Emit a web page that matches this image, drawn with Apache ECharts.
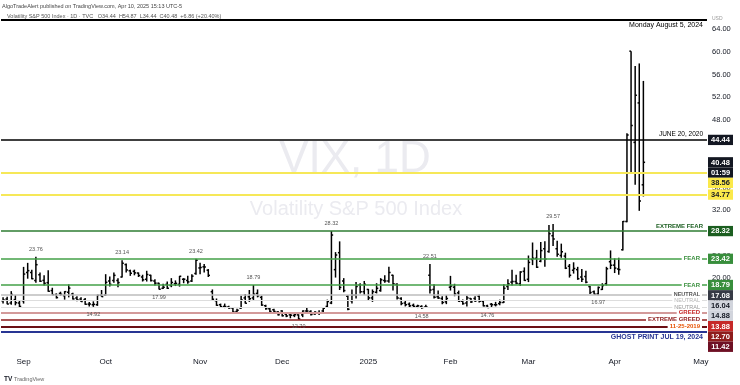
<!DOCTYPE html>
<html><head><meta charset="utf-8">
<script src="https://cdn.jsdelivr.net/npm/echarts@6/dist/echarts.min.js"></script>
<style>html,body{margin:0;padding:0;background:#fff}#c{width:740px;height:385px}</style>
</head><body><div id="c"></div>
<script>
// ---------- DATA ----------
const monthDays = [
 ['2024-08',[26,27,28,29,30]],
 ['2024-09',[3,4,5,6,9,10,11,12,13,16,17,18,19,20,23,24,25,26,27,30]],
 ['2024-10',[1,2,3,4,7,8,9,10,11,14,15,16,17,18,21,22,23,24,25,28,29,30,31]],
 ['2024-11',[1,4,5,6,7,8,11,12,13,14,15,18,19,20,21,22,25,26,27,29]],
 ['2024-12',[2,3,4,5,6,9,10,11,12,13,16,17,18,19,20,23,24,26,27,30,31]],
 ['2025-01',[2,3,6,7,8,10,13,14,15,16,17,21,22,23,24,27,28,29,30,31]],
 ['2025-02',[3,4,5,6,7,10,11,12,13,14,18,19,20,21,24,25,26,27,28]],
 ['2025-03',[3,4,5,6,7,10,11,12,13,14,17,18,19,20,21,24,25,26,27,28,31]],
 ['2025-04',[1,2,3,4,7,8,9,10,11,14,15,16,17,21,22,23,24,25,28,29,30]],
 ['2025-05',[1,2]]
];
const monthNames = {'2024-09':'Sep','2024-10':'Oct','2024-11':'Nov','2024-12':'Dec','2025-01':'2025','2025-02':'Feb','2025-03':'Mar','2025-04':'Apr','2025-05':'May'};

const open = [16.0,16.3,15.6,16.2,15.6,
 16.0,21.0,21.0,19.6,20.6,19.6,19.2,17.8,17.1,17.3,16.9,17.5,17.2,16.5,16.3,16.2,15.4,15.3,15.3,17.0,
 17.0,19.5,19.6,19.6,20.2,22.4,21.3,21.2,20.9,20.2,19.8,20.5,19.5,19.1,18.2,18.9,18.7,19.0,18.9,19.8,19.6,19.5,20.8,
 21.8,22.0,21.4,17.6,16.0,15.3,15.0,14.9,14.7,14.1,14.7,16.5,16.7,16.5,17.3,16.6,15.1,14.6,14.4,14.0,
 14.2,13.6,13.5,13.4,13.5,13.5,14.2,14.1,13.7,13.9,14.2,15.0,15.6,21.5,24.5,19.5,16.8,16.0,17.0,18.8,17.6,
 18.0,16.5,17.5,17.8,19.6,19.5,20.5,18.9,16.4,15.6,15.4,15.2,15.0,15.0,14.9,20.5,18.0,16.7,16.4,15.8,
 18.4,18.4,17.4,15.9,15.6,16.4,16.4,16.8,15.9,15.1,15.4,15.3,15.5,15.7,18.5,19.3,19.4,19.0,21.2,
 19.8,23.3,23.5,23.0,25.2,24.7,27.5,25.2,24.0,23.9,22.1,21.4,21.5,20.2,20.3,18.5,17.6,17.2,18.0,19.0,22.9,
 22.3,21.6,25.0,30.0,60.13,44.0,50.98,36.5];
const high = [16.6,16.7,17.7,17.0,16.0,
 21.99,22.7,21.5,23.76,21.0,20.5,21.4,18.3,17.3,17.6,17.7,18.9,17.4,16.8,16.6,16.5,15.8,15.9,17.1,17.9,
 20.7,20.3,21.0,20.0,23.14,22.6,21.5,21.5,21.0,20.6,21.3,20.6,19.8,19.2,19.0,19.4,20.0,19.6,20.4,20.0,20.4,20.7,23.42,
 22.7,22.5,21.6,18.0,16.4,15.5,15.5,15.1,14.9,14.6,16.9,17.2,17.9,18.79,18.0,16.9,15.3,14.8,14.6,14.2,
 14.3,14.0,13.7,13.7,13.6,14.3,14.9,14.3,14.2,14.3,14.8,16.2,28.32,24.6,26.5,20.0,17.0,18.0,19.3,19.1,19.5,
 18.1,18.0,19.1,20.0,20.5,22.0,20.6,19.1,16.6,16.0,15.7,15.5,15.3,15.2,15.3,22.51,18.9,17.8,16.8,17.0,
 20.4,19.0,17.8,16.2,16.9,16.5,16.8,17.1,16.0,15.3,15.6,15.8,16.2,18.9,19.8,21.5,20.6,21.2,21.9,
 24.0,26.3,25.0,26.4,26.5,29.4,29.57,26.6,26.1,24.5,22.5,22.8,22.0,21.6,21.3,18.6,17.8,18.5,19.1,22.0,24.9,
 23.5,23.6,30.1,45.6,60.13,57.5,57.96,54.87];
const low = [15.5,15.4,15.3,15.2,14.9,
 15.5,19.9,19.8,19.2,19.3,18.7,17.6,17.0,16.4,16.9,16.2,16.6,16.2,15.9,15.8,15.3,15.0,14.92,15.1,16.7,
 16.9,18.5,19.2,18.4,20.1,21.0,20.4,20.5,20.2,19.4,19.4,19.4,18.7,17.99,18.1,18.1,18.4,18.6,18.5,19.1,19.0,19.3,20.6,
 20.7,21.0,20.2,16.0,15.1,14.8,14.7,14.6,13.8,13.8,14.6,15.5,15.8,16.1,16.6,15.1,14.4,14.0,13.9,13.4,
 13.2,13.1,12.9,13.1,12.70,13.1,13.8,13.4,13.5,13.5,13.9,14.9,15.4,20.1,17.9,17.5,14.3,15.5,16.4,17.3,17.0,
 16.1,15.8,17.3,17.6,19.2,19.2,17.8,16.2,15.2,15.0,14.9,14.8,14.7,14.58,14.7,17.3,16.4,16.3,15.4,15.4,
 17.8,16.8,15.8,15.3,15.0,15.6,15.8,15.7,15.0,14.76,14.9,15.0,15.2,15.6,17.9,18.7,18.9,18.6,19.5,
 19.3,22.3,21.8,22.8,22.0,24.5,25.7,23.8,23.6,21.6,20.1,20.8,19.7,19.3,19.1,17.2,17.1,16.97,17.9,18.7,21.6,
 20.9,20.6,24.9,29.9,38.58,36.5,31.9,34.44];
const close = [16.15,15.43,17.11,15.65,15.00,
 20.72,21.32,19.90,22.38,19.45,19.08,17.69,17.07,16.56,17.14,17.61,18.23,16.33,16.15,15.89,15.39,15.41,15.37,16.96,16.73,
 19.26,18.90,20.49,19.21,22.64,21.42,20.86,20.93,20.46,19.70,20.64,19.58,19.11,18.03,18.37,18.20,19.24,19.08,20.33,19.80,19.34,20.35,23.16,
 21.88,21.98,20.49,16.27,15.20,14.94,14.97,14.71,14.02,14.31,16.14,15.58,16.35,17.16,16.87,15.24,14.60,14.10,14.10,13.51,
 13.34,13.30,13.45,13.54,12.77,14.19,14.18,13.58,13.92,13.81,14.69,15.87,27.62,24.09,18.36,17.8,14.5,17.0,18.5,17.6,18.9,
 16.5,17.6,18.2,19.7,19.5,21.0,19.0,16.5,15.5,15.3,15.1,15.0,15.1,14.8,14.9,17.9,16.6,16.5,15.7,16.4,
 18.6,17.2,15.9,15.5,16.5,15.8,16.0,15.9,15.1,14.8,15.3,15.3,15.7,18.2,19.0,19.4,19.1,21.1,19.6,
 22.78,23.51,21.93,24.87,23.37,27.86,26.92,24.23,24.66,21.77,20.51,21.70,19.90,19.80,19.28,17.48,17.15,18.33,18.69,21.65,22.28,
 21.77,21.51,30.02,45.31,46.98,52.33,33.62,40.48];

const peakIdx = [8,29,47,61,80,104,134];
const lowIdx = [22,38,72,102,118,145];

const levelValues = [65.73,44.44,38.56,34.77,28.32,23.42,18.79,17.08,16.04,14.88,13.88,12.70,11.42,10.50];
const levelNames = ['Monday August 5, 2024','JUNE 20, 2020','','','EXTREME FEAR','FEAR','FEAR','NEUTRAL','NEUTRAL','NEUTRAL','GREED','EXTREME GREED','11-25-2019','GHOST PRINT JUL 19, 2024'];
const lastPrice = 40.48;
const countdown = '01:59';
const yTicks = {min:8, max:68, step:4};

// ---------- STYLES ----------
const FONT = '"Liberation Sans", Arial, sans-serif';
const levelStyle = [
 {line:'#000000',w:2,  tc:'#000000',fs:7,  fw:'normal',pos:'insideEndBottom',badge:null},
 {line:'#000000',w:1.5,tc:'#000000',fs:6.5,fw:'normal',pos:'insideEndTop',badge:['#131722','#ffffff']},
 {line:'#f6e858',w:2,  tc:'#000',   fs:6,  fw:'normal',pos:'insideEnd',badge:['#fbe94a','#131722']},
 {line:'#f6e858',w:2,  tc:'#000',   fs:6,  fw:'normal',pos:'insideEnd',badge:['#fbe94a','#131722']},
 {line:'#2e7d32',w:1.5,tc:'#1b5e20',fs:6,  fw:'bold',pos:'insideEndTop',badge:['#1b5e20','#ffffff']},
 {line:'#43a047',w:1.5,tc:'#388e3c',fs:6,  fw:'bold',pos:'insideEnd',badge:['#388e3c','#ffffff']},
 {line:'#43a047',w:1.5,tc:'#388e3c',fs:6,  fw:'bold',pos:'insideEnd',badge:['#388e3c','#ffffff']},
 {line:'#bdbdbd',w:1.5,tc:'#555555',fs:5.5,fw:'bold',pos:'insideEnd',badge:['#363a45','#ffffff']},
 {line:'#dddddd',w:1,  tc:'#b5b5b5',fs:5.5,fw:'normal',pos:'insideEnd',badge:['#d1d4dc','#131722']},
 {line:'#dddddd',w:1,  tc:'#9a9a9a',fs:5.5,fw:'normal',pos:'insideEnd',badge:['#d1d4dc','#131722']},
 {line:'#d39a9a',w:2,  tc:'#c62828',fs:6,  fw:'bold',pos:'insideEnd',badge:['#c62828','#ffffff']},
 {line:'#8e1c1c',w:1.5,tc:'#8e1c1c',fs:6,  fw:'bold',pos:'insideEnd',badge:['#8e1c1c','#ffffff']},
 {line:'#6b0f14',w:1.8,tc:'#e65100',fs:6,  fw:'bold',pos:'insideEnd',badge:['#6e1024','#ffffff']},
 {line:'#283593',w:2,  tc:'#283593',fs:7,  fw:'bold',pos:'insideEndBottom',badge:null}
];

// ---------- BUILD ----------
const dates = []; const firstIdx = {};
monthDays.forEach(([m, days], mi) => {
  days.forEach((d, k) => {
    if (k === 0 && mi > 0) firstIdx[dates.length] = monthNames[m];
    dates.push(m + '-' + String(d).padStart(2, '0'));
  });
});
const ohlc = open.map((o, i) => [i, o, high[i], low[i], close[i]]);

const markLineData = levelValues.map((v, i) => {
  const s = levelStyle[i];
  const inside = s.pos === 'insideEnd';
  return {
    yAxis: v,
    lineStyle: {color: s.line, width: s.w, type: 'solid'},
    label: {
      show: levelNames[i] !== '',
      formatter: levelNames[i],
      position: s.pos,
      color: s.tc, fontSize: s.fs, fontWeight: s.fw, fontFamily: FONT,
      distance: inside ? [5, 0] : [4, 2],
      backgroundColor: inside ? '#ffffff' : 'transparent',
      padding: inside ? [0, 2] : 0
    }
  };
});

const markPointData = []
  .concat(peakIdx.map(i => ({coord: [dates[i], high[i]], value: high[i], label: {position: 'top'}})))
  .concat(lowIdx.map(i => ({coord: [dates[i], low[i]], value: low[i], label: {position: 'bottom'}})));

const grid = {left: 1, right: 33, top: 6.66, bottom: 39};

const baseGraphic = [
  {type:'text', z:0, x:355, y:160, style:{text:'VIX, 1D', font:'44px ' + FONT, fill:'#ebebf0', align:'center', textAlign:'center', verticalAlign:'middle', textVerticalAlign:'middle'}},
  {type:'text', z:0, x:356, y:209, style:{text:'Volatility S&P 500 Index', font:'20px ' + FONT, fill:'#ebebf0', align:'center', textAlign:'center', verticalAlign:'middle', textVerticalAlign:'middle'}},
  {type:'text', z:50, x:2, y:6, style:{text:'AlgoTradeAlert published on TradingView.com, Apr 10, 2025 15:13 UTC-5', font:'5.5px ' + FONT, fill:'#444', verticalAlign:'middle', textVerticalAlign:'middle'}},
  {type:'text', z:50, x:7, y:16, style:{text:'Volatility S&P 500 Index · 1D · TVC   O34.44  H54.87  L34.44  C40.48  +6.86 (+20.40%)', font:'5.5px ' + FONT, fill:'#555', verticalAlign:'middle', textVerticalAlign:'middle'}},
  {type:'text', z:50, x:712, y:19, style:{text:'USD', font:'5px ' + FONT, fill:'#999', verticalAlign:'middle', textVerticalAlign:'middle'}},
  {type:'text', z:50, x:4, y:379, style:{text:'TV', font:'bold 6.5px ' + FONT, fill:'#131722', verticalAlign:'middle', textVerticalAlign:'middle'}},
  {type:'text', z:50, x:14, y:379, style:{text:'TradingView', font:'5.5px ' + FONT, fill:'#666', verticalAlign:'middle', textVerticalAlign:'middle'}}
];

const chart = echarts.init(document.getElementById('c'), null, {renderer: 'canvas'});
chart.setOption({
  animation: false,
  backgroundColor: '#ffffff',
  grid: grid,
  xAxis: {
    type: 'category', data: dates, boundaryGap: true,
    axisLine: {show: false}, axisTick: {show: false}, splitLine: {show: false},
    axisLabel: {
      interval: (idx) => firstIdx[idx] !== undefined,
      formatter: (val, idx) => firstIdx[idx] || '',
      fontSize: 8, color: '#131722', margin: 12, fontFamily: FONT,
      rich: {}
    }
  },
  yAxis: {
    type: 'value', position: 'right', min: yTicks.min, max: yTicks.max, interval: yTicks.step,
    axisLine: {show: false}, axisTick: {show: false}, splitLine: {show: false},
    axisLabel: {
      formatter: v => (v === yTicks.min || v === yTicks.max) ? '' : v.toFixed(2),
      fontSize: 7.5, color: '#131722', margin: 5, fontFamily: FONT
    }
  },
  graphic: baseGraphic,
  series: [{
    type: 'custom',
    data: ohlc,
    encode: {x: 0, y: [1, 2, 3, 4]},
    renderItem: function (params, api) {
      const x = api.value(0);
      const o = api.coord([x, api.value(1)]);
      const h = api.coord([x, api.value(2)]);
      const l = api.coord([x, api.value(3)]);
      const c = api.coord([x, api.value(4)]);
      const t = api.size([1, 0])[0] * 0.42;
      const st = {stroke: '#000000', lineWidth: 1.5};
      return {type: 'group', children: [
        {type: 'line', shape: {x1: h[0], y1: h[1], x2: l[0], y2: l[1]}, style: st},
        {type: 'line', shape: {x1: o[0] - t, y1: o[1], x2: o[0], y2: o[1]}, style: st},
        {type: 'line', shape: {x1: c[0], y1: c[1], x2: c[0] + t, y2: c[1]}, style: st}
      ]};
    },
    markLine: {silent: true, symbol: ['none', 'none'], animation: false, data: markLineData},
    markPoint: {
      silent: true, symbol: 'circle', symbolSize: 1, itemStyle: {color: 'rgba(0,0,0,0)'},
      label: {show: true, formatter: p => p.value.toFixed(2), fontSize: 5.5, color: '#555', distance: 4, fontFamily: FONT},
      data: markPointData
    }
  }]
});

// ---------- right-axis price badges with stacking ----------
const BH = 10.3, BW = 25, BX = 740 - grid.right + 1;
const badges = [];
levelValues.forEach((v, i) => {
  const b = levelStyle[i].badge;
  if (b) badges.push({v, rows: [[v.toFixed(2), b[0], b[1]]]});
});
badges.push({v: lastPrice, rows: [[lastPrice.toFixed(2), '#131722', '#ffffff'], [countdown, '#131722', '#ffffff']]});
badges.forEach(b => b.y = chart.convertToPixel({yAxisIndex: 0}, b.v));
badges.sort((a, b) => a.y - b.y);
let prevBottom = -1e9;
const badgeGraphic = [];
badges.forEach(b => {
  const top = Math.max(b.y - BH / 2, prevBottom);
  b.rows.forEach((r, k) => {
    const ty = top + k * BH;
    badgeGraphic.push({type: 'rect', z: 100, shape: {x: BX, y: ty, width: BW, height: BH}, style: {fill: r[1]}});
    badgeGraphic.push({type: 'text', z: 101, x: BX + BW / 2, y: ty + BH / 2 + 0.3,
      style: {text: r[0], font: 'bold 7.5px ' + FONT, fill: r[2], align: 'center', textAlign: 'center', verticalAlign: 'middle', textVerticalAlign: 'middle'}});
  });
  prevBottom = top + BH * b.rows.length;
});
chart.setOption({graphic: {elements: baseGraphic.concat(badgeGraphic)}}, {replaceMerge: ['graphic']});
</script>
</body></html>
